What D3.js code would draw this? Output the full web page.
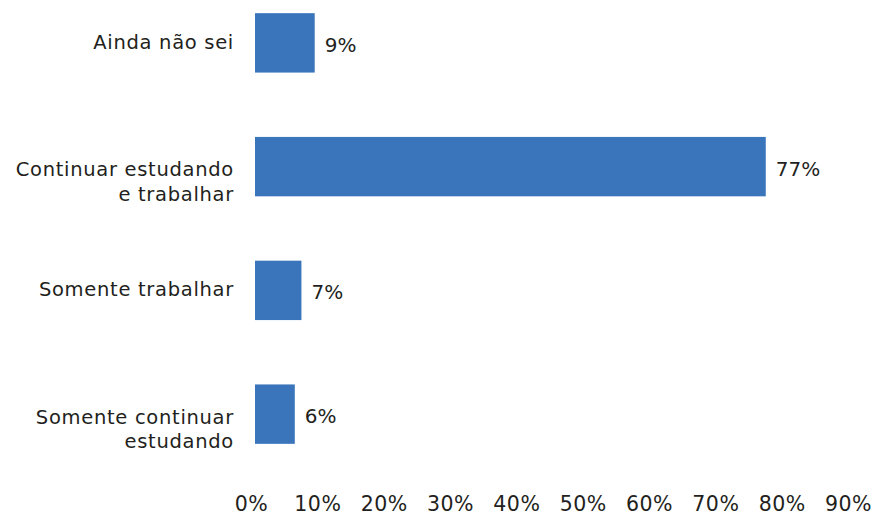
<html>
<script src="https://d3js.org/d3.v7.min.js"></script>
<style>
    body { margin: 0; background: #fff; }
    text { font-family: 'DejaVu Sans', sans-serif; fill: #231f20; }
</style>
<body>
<div id="chart"></div>
<script>
    // data
    var categories = [["Ainda não sei"],
                      ["Continuar estudando", "e trabalhar"],
                      ["Somente trabalhar"],
                      ["Somente continuar", "estudando"]];
    var values = [9, 77, 7, 6];
    var ticks = [0, 10, 20, 30, 40, 50, 60, 70, 80, 90];

    var width = 877, height = 515;

    var svg = d3.select("#chart").append("svg")
        .attr("width", width)
        .attr("height", height);

    var xs = d3.scaleLinear().domain([0, 90]).range([255, 852]);
    var ys = d3.scaleBand()
        .domain(d3.range(values.length))
        .range([-19, 476])
        .paddingInner(0.52)
        .paddingOuter(0.26);

    // bars
    svg.selectAll("rect.bar")
        .data(values)
        .enter()
        .append("rect")
        .attr("class", "bar")
        .attr("x", xs(0))
        .attr("y", function(d, i) { return ys(i); })
        .attr("width", function(d) { return xs(d) - xs(0); })
        .attr("height", ys.bandwidth())
        .attr("fill", "#3a75bc");

    // value labels
    svg.selectAll("text.val")
        .data(values)
        .enter()
        .append("text")
        .attr("class", "val")
        .attr("x", function(d) { return xs(d) + 10; })
        .attr("y", function(d, i) { return ys(i) + ys.bandwidth() / 2 + 9; })
        .style("font-size", "20px")
        .text(function(d) { return d + "%"; });

    // category labels
    var cat = svg.selectAll("text.cat")
        .data(categories)
        .enter()
        .append("text")
        .attr("class", "cat")
        .attr("text-anchor", "end")
        .style("font-size", "19.5px")
        .style("letter-spacing", "0.7px")
        .attr("y", function(d, i) {
            var c = ys(i) + ys.bandwidth() / 2;
            return d.length > 1 ? c + 9.5 : c + 6;
        });
    cat.selectAll("tspan")
        .data(function(d) { return d; })
        .enter()
        .append("tspan")
        .attr("x", 234)
        .attr("dy", function(d, j) { return j == 0 ? 0 : 24.5; })
        .text(function(d) { return d; });

    // x axis, labels only
    var ax = svg.append("g")
        .attr("transform", "translate(-4," + 493 + ")")
        .call(d3.axisBottom(xs).tickValues(ticks).tickSize(0).tickFormat(function(d) { return d + "%"; }));
    ax.select(".domain").remove();
    ax.selectAll("text")
        .attr("font-family", "'DejaVu Sans', sans-serif")
        .attr("font-size", 20.5)
        .style("letter-spacing", "0.5px")
        .attr("fill", "#231f20");
</script>
</body>
</html>
